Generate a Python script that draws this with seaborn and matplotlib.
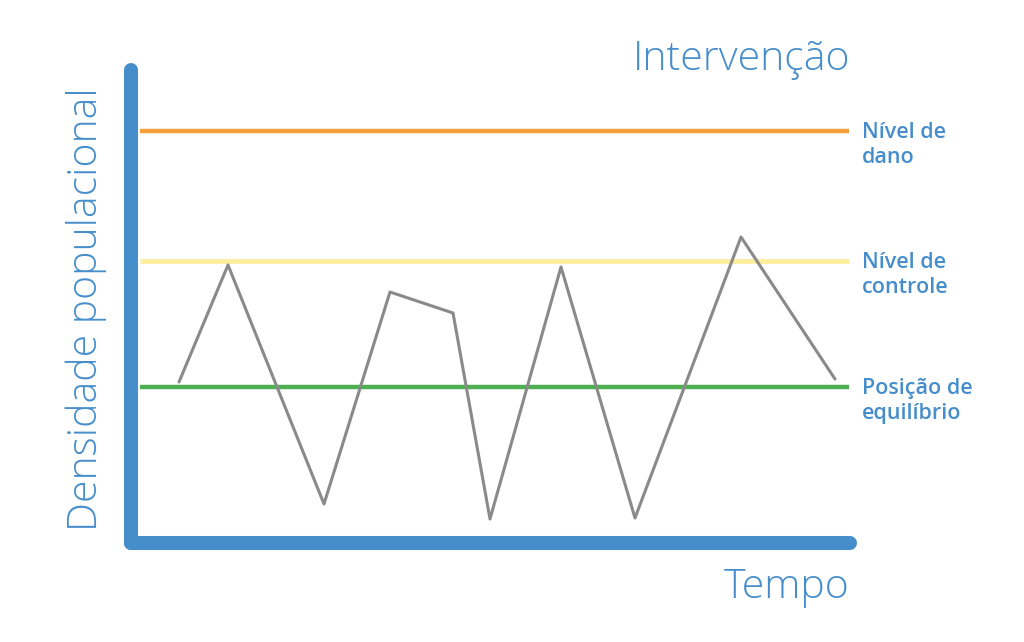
import matplotlib
matplotlib.use("Agg")
import matplotlib.pyplot as plt
import seaborn as sns

# time / density readings (chart units)
tempo = [48, 97, 193, 259, 322, 359, 430, 504, 610, 704]
densidade = [161, 278, 39, 251, 230, 24, 276, 25, 306, 164]

nivel_dano = 412
nivel_controle = 282
equilibrio = 156
linha_inicio, linha_fim = 9, 718

rotulos = ["Nível de\ndano", "Nível de\ncontrole", "Posição de\nequilíbrio"]

azul = "#468ecb"
laranja = "#f4a03c"
amarelo = "#fdeea2"
verde = "#4daf52"
cinza = "#8a8a8a"

sns.set_style("white")
plt.rcParams["font.family"] = ["Open Sans", "DejaVu Sans"]

W, H = 1024, 642
fig = plt.figure(figsize=(W / 100, H / 100), dpi=100)
ax = fig.add_axes([131 / W, (H - 543) / H, (850 - 131) / W, (543 - 70) / H])

ax.hlines(nivel_dano, linha_inicio, linha_fim, color=laranja, linewidth=3.2)
ax.hlines(nivel_controle, linha_inicio, linha_fim, color=amarelo, linewidth=3.6)
ax.hlines(equilibrio, linha_inicio, linha_fim, color=verde, linewidth=3.2)
sns.lineplot(x=tempo, y=densidade, sort=False, color=cinza, linewidth=2.2, ax=ax)

ax.set_xlim(0, 719)
ax.set_ylim(0, 473)
ax.set_xticks([])
ax.set_yticks([])
ax.set_facecolor("none")

for lado in ["top", "right"]:
    ax.spines[lado].set_visible(False)
for lado in ["left", "bottom"]:
    ax.spines[lado].set_color(azul)
    ax.spines[lado].set_linewidth(10.1)
    ax.spines[lado].set_capstyle("round")

# side labels next to each reference line
for y, txt in zip([nivel_dano, nivel_controle, equilibrio], rotulos):
    ax.text(731, y + 9, txt, ha="left", va="top", color=azul, fontsize=15.5,
            fontweight="semibold", linespacing=1.22, clip_on=False)

fig.text(850 / W, 1 - 70 / H, "Intervenção", ha="right", va="baseline",
         color=azul, fontsize=29.5, fontweight="light")
fig.text(850 / W, 1 - 598 / H, "Tempo", ha="right", va="baseline",
         color=azul, fontsize=29.5, fontweight="light")
fig.text(86 / W, 1 - 309 / H, "Densidade populacional", ha="center",
         va="center", rotation=90, color=azul,
         fontsize=29.5, fontweight="light")

fig.savefig("out.png", dpi=100, facecolor="white")
